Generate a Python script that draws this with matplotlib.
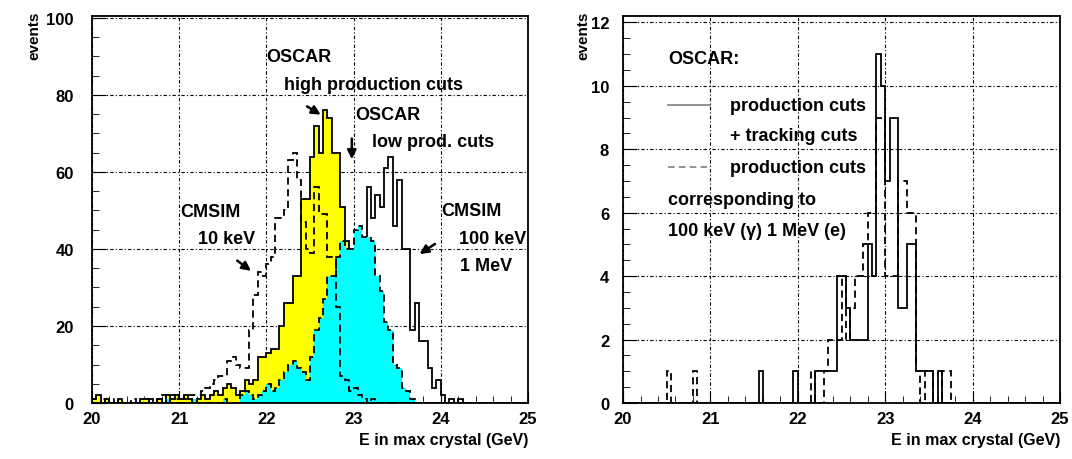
import numpy as np
import matplotlib
matplotlib.use('Agg')
import matplotlib.pyplot as plt
from matplotlib.ticker import MultipleLocator

plt.rcParams['font.family'] = ['Liberation Sans', 'DejaVu Sans']
plt.rcParams['font.weight'] = 'bold'

# bin edges: 100 bins of 0.05 GeV between 20 and 25
edges = np.linspace(20, 25, 101)

# left panel: OSCAR high production cuts (yellow)
oscar_high = [1, 2, 0, 1, 0, 0, 1, 0, 0, 0, 0, 1, 1, 0, 0, 1, 0, 2, 1, 2,
              1, 2, 1, 0, 1, 2, 1, 2, 3, 2, 4, 5, 4, 2, 3, 6, 5, 6, 12, 12,
              13, 14, 14, 20, 26, 26, 33, 33, 53, 53, 64, 72, 65, 76, 74, 65, 65, 51, 42, 34,
              20, 8, 4, 2, 0, 0, 0, 0, 0, 0, 0, 0, 0, 0, 0, 0, 0, 0, 0, 0,
              0, 0, 0, 0, 0, 0, 0, 0, 0, 0, 0, 0, 0, 0, 0, 0, 0, 0, 0, 0]
# OSCAR low production cuts (cyan)
oscar_low = [0, 0, 0, 0, 0, 0, 0, 0, 0, 0, 0, 0, 0, 0, 0, 0, 0, 1, 0, 0,
             0, 0, 0, 1, 0, 0, 0, 0, 0, 0, 1, 0, 0, 0, 2, 3, 2, 1, 2, 3,
             5, 3, 4, 6, 8, 10, 11, 9, 8, 6, 12, 19, 22, 27, 33, 33, 38, 42, 40, 40,
             45, 46, 43, 43, 42, 33, 29, 21, 19, 10, 9, 4, 3, 1, 0, 0, 0, 0, 0, 0,
             0, 0, 0, 0, 0, 0, 0, 0, 0, 0, 0, 0, 0, 0, 0, 0, 0, 0, 0, 0]
# CMSIM 10 keV (dashed)
cmsim_10kev = [1, 0, 1, 0, 0, 1, 0, 0, 0, 1, 0, 0, 0, 1, 0, 1, 2, 0, 2, 1,
               2, 1, 2, 2, 2, 3, 4, 5, 6, 7, 7, 11, 12, 10, 9, 9, 19, 28, 34, 33,
               36, 38, 48, 48, 50, 63, 65, 58, 47, 40, 39, 56, 49, 49, 38, 38, 25, 7, 6, 3,
               4, 2, 1, 0, 1, 0, 0, 0, 0, 0, 0, 0, 0, 0, 0, 0, 0, 0, 0, 0,
               0, 0, 0, 0, 0, 0, 0, 0, 0, 0, 0, 0, 0, 0, 0, 0, 0, 0, 0, 0]
# CMSIM 100 keV / 1 MeV (solid)
cmsim_100kev = [0, 0, 0, 1, 0, 0, 0, 0, 0, 0, 0, 0, 1, 0, 0, 0, 0, 0, 1, 0,
                0, 0, 0, 0, 0, 0, 0, 0, 1, 0, 0, 0, 0, 1, 0, 0, 1, 0, 2, 1,
                2, 3, 3, 4, 6, 8, 10, 12, 15, 18, 20, 24, 26, 28, 30, 32, 34, 36, 38, 38,
                40, 40, 40, 56, 48, 54, 51, 61, 64, 46, 58, 40, 40, 19, 26, 16, 16, 9, 4, 6,
                2, 0, 1, 0, 1, 0, 0, 0, 0, 0, 0, 0, 0, 0, 0, 0, 0, 0, 0, 0]

# right panel: production + tracking cuts (solid) and production cuts (dashed)
prod_track = [0, 0, 0, 0, 0, 0, 0, 0, 0, 0, 0, 0, 0, 0, 0, 0, 0, 0, 0, 0,
              0, 0, 0, 0, 0, 0, 0, 0, 0, 0, 0, 1, 0, 0, 0, 0, 0, 0, 0, 1,
              0, 0, 0, 0, 1, 1, 1, 1, 1, 4, 4, 3, 2, 2, 2, 2, 5, 4, 11, 10,
              7, 9, 9, 3, 3, 5, 5, 1, 1, 1, 1, 0, 1, 0, 0, 0, 0, 0, 0, 0,
              0, 0, 0, 0, 0, 0, 0, 0, 0, 0, 0, 0, 0, 0, 0, 0, 0, 0, 0, 0]
prod_only = [0, 0, 0, 0, 0, 0, 0, 0, 0, 0, 1, 0, 0, 0, 0, 0, 1, 0, 0, 0,
             0, 0, 0, 0, 0, 0, 0, 0, 0, 0, 0, 0, 0, 0, 0, 0, 0, 0, 0, 0,
             0, 0, 0, 1, 0, 0, 1, 2, 2, 2, 4, 2, 3, 4, 4, 5, 6, 6, 9, 9,
             4, 4, 4, 7, 7, 6, 6, 1, 0, 1, 1, 0, 0, 1, 1, 0, 0, 0, 0, 0,
             0, 0, 0, 0, 0, 0, 0, 0, 0, 0, 0, 0, 0, 0, 0, 0, 0, 0, 0, 0]

dash = (0, (4, 2.5))
grid_style = (0, (3, 2, 1, 2))
lw_h = 1.3
fs = 13

fig = plt.figure(figsize=(10.72, 4.6), dpi=100)
ax1 = fig.add_axes([0.0858, 0.1217, 0.4067, 0.8413])
ax2 = fig.add_axes([0.5812, 0.1217, 0.4076, 0.8413])

# ---- left panel
ax1.stairs(cmsim_100kev, edges, color='black', lw=lw_h, zorder=2)
ax1.stairs(oscar_high, edges, fill=True, color='#ffff00', zorder=3)
ax1.stairs(oscar_high, edges, color='black', lw=lw_h, zorder=3)
ax1.stairs(oscar_low, edges, fill=True, color='#00ffff', zorder=4)
ax1.stairs(oscar_low, edges, color='black', lw=lw_h, linestyle=dash, zorder=4)
ax1.stairs(cmsim_10kev, edges, color='black', lw=lw_h, linestyle=dash, zorder=5)
ax1.set_ylim(0, 100.5)

arrow = dict(arrowstyle='-|>', color='black', lw=1.8, mutation_scale=13)
ax1.text(22.0, 89.9, 'OSCAR', fontsize=fs, va='center')
ax1.text(22.2, 82.6, 'high production cuts', fontsize=fs, va='center')
ax1.annotate('', xy=(22.65, 74.5), xytext=(22.44, 77.4), arrowprops=arrow)
ax1.text(23.02, 75.0, 'OSCAR', fontsize=fs, va='center')
ax1.text(23.21, 67.9, 'low prod. cuts', fontsize=fs, va='center')
ax1.annotate('', xy=(22.98, 62.6), xytext=(22.98, 69.4), arrowprops=arrow)
ax1.text(21.01, 49.8, 'CMSIM', fontsize=fs, va='center')
ax1.text(21.22, 42.6, '10 keV', fontsize=fs, va='center')
ax1.annotate('', xy=(21.85, 33.9), xytext=(21.64, 37.4), arrowprops=arrow)
ax1.text(24.0, 49.9, 'CMSIM', fontsize=fs, va='center')
ax1.text(24.21, 42.6, '100 keV', fontsize=fs, va='center')
ax1.text(24.22, 35.8, '1 MeV', fontsize=fs, va='center')
ax1.annotate('', xy=(23.73, 38.3), xytext=(23.96, 41.7), arrowprops=arrow)

# ---- right panel
ax2.stairs(prod_track, edges, color='black', lw=lw_h, zorder=3)
ax2.stairs(prod_only, edges, color='black', lw=lw_h, linestyle=dash, zorder=4)
ax2.set_ylim(0, 12.2)

ax2.text(20.52, 10.86, 'OSCAR:', fontsize=fs, va='center')
ax2.plot([20.52, 20.99], [9.39, 9.39], color='gray', lw=1.2)
ax2.text(21.22, 9.39, 'production cuts', fontsize=fs, va='center')
ax2.text(21.22, 8.42, '+ tracking cuts', fontsize=fs, va='center')
ax2.plot([20.52, 20.99], [7.43, 7.43], color='gray', lw=1.2, linestyle=dash)
ax2.text(21.22, 7.43, 'production cuts', fontsize=fs, va='center')
ax2.text(20.52, 6.43, 'corresponding to', fontsize=fs, va='center')
ax2.text(20.52, 5.43, '100 keV (\u03b3) 1 MeV (e)', fontsize=fs, va='center')

# ---- common axis style
for ax, ymaj, ymin, ylx, ypad in [(ax1, 20, 5, -0.131, 13), (ax2, 2, 0.5, -0.0915, 10)]:
    ax.set_xlim(20, 25)
    ax.xaxis.set_major_locator(MultipleLocator(1))
    ax.xaxis.set_minor_locator(MultipleLocator(0.2))
    ax.yaxis.set_major_locator(MultipleLocator(ymaj))
    ax.yaxis.set_minor_locator(MultipleLocator(ymin))
    ax.tick_params(which='both', direction='in', top=False, right=False, labelsize=12)
    ax.tick_params(axis='x', which='major', length=9, pad=6)
    ax.tick_params(axis='x', which='minor', length=5)
    ax.tick_params(axis='y', which='major', length=10, pad=ypad)
    ax.tick_params(axis='y', which='minor', length=5)
    ax.grid(True, which='major', color='black', lw=0.8, linestyle=grid_style, zorder=6)
    ax.set_axisbelow(False)
    for s in ax.spines.values():
        s.set_linewidth(1.3)
        s.set_zorder(7)
    ax.text(ylx, 1.013, 'events', rotation=90, ha='center', va='top',
            fontsize=11, transform=ax.transAxes)
    ax.text(1.0, -0.095, 'E in max crystal (GeV)', ha='right', va='center',
            fontsize=11.5, transform=ax.transAxes)

fig.savefig('out.png', dpi=100)
